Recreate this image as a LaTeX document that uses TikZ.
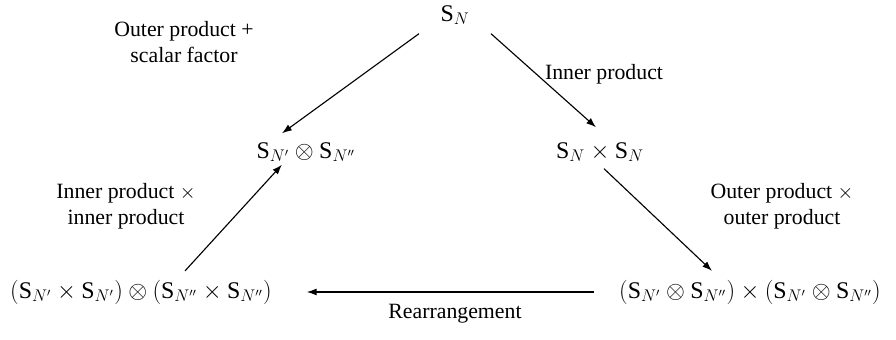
\documentclass[tikz,border=0pt]{standalone}
\usepackage{fontspec}
\setmainfont{Liberation Serif}
\usetikzlibrary{arrows.meta}
\newcommand{\Sg}[1]{\mathrm{S}_{#1}}
\begin{document}
\begin{tikzpicture}[font=\fontsize{15.5}{18.5}\selectfont,
  arr/.style={-{Latex[length=7pt,width=5pt]}, line width=0.8pt},
  grp/.style={font=\fontsize{17}{19}\selectfont}]
  \useasboundingbox (0,0) rectangle (22.4,8.5);

  \node[grp] (top) at (11.375,8.125) {$\Sg{N}$};
  \node[grp] (midL) at (7.65,4.7) {$\Sg{N'}\otimes\Sg{N''}$};
  \node[grp] (midR) at (15.0,4.7) {$\Sg{N}\times\Sg{N}$};
  \node[grp] (botL) at (3.525,1.2) {$(\Sg{N'}\times\Sg{N'})\otimes(\Sg{N''}\times\Sg{N''})$};
  \node[grp] (botR) at (18.75,1.2) {$(\Sg{N'}\otimes\Sg{N''})\times(\Sg{N'}\otimes\Sg{N''})$};

  \node[align=center] (outerscalar) at (4.6,7.45) {Outer product +\\scalar factor};
  \node (inner) at (15.1,6.65) {Inner product};
  \node[align=center] (innerinner) at (3.15,3.35) {Inner product $\times$\\inner product};
  \node[align=center] (outerouter) at (19.55,3.35) {Outer product $\times$\\outer product};
  \node (rearr) at (11.375,0.65) {Rearrangement};

  \draw[arr] ([xshift=-0.9cm,yshift=-0.1cm]top.south) -- ([xshift=-0.6cm,yshift=0.1cm]midL.north);
  \draw[arr] ([xshift=0.9cm,yshift=-0.1cm]top.south) -- ([xshift=-0.1cm,yshift=0.25cm]midR.north);
  \draw[arr] ([xshift=1.1cm,yshift=0.1cm]botL.north) -- ([xshift=-0.6cm,yshift=0.05cm]midL.south);
  \draw[arr] ([xshift=0.1cm,yshift=-0.05cm]midR.south) -- ([xshift=-0.95cm,yshift=0.1cm]botR.north);
  \draw[arr] ([xshift=-0.5cm]botR.west) -- ([xshift=0.75cm]botL.east);
\end{tikzpicture}
\end{document}
